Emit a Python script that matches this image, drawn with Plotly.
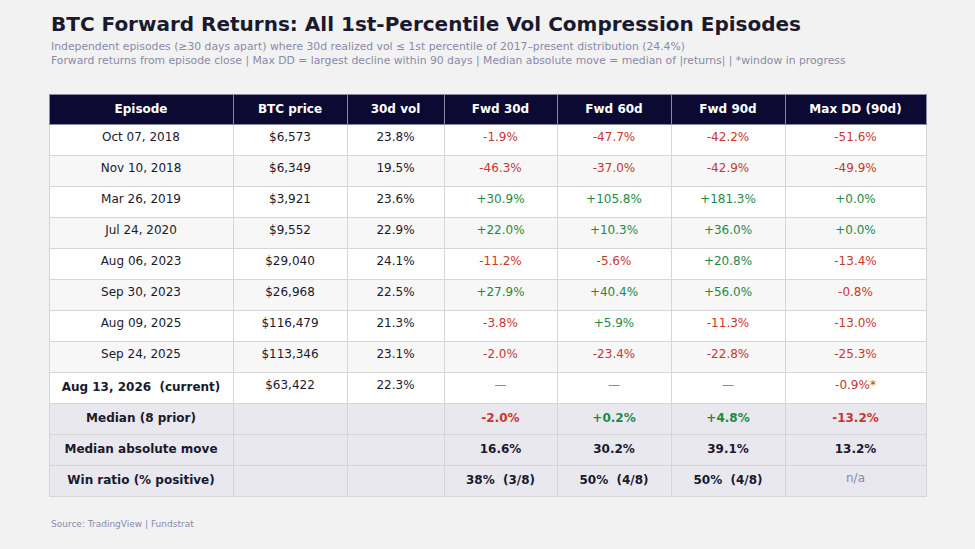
import plotly.graph_objects as go

FONT = "DejaVu Sans, Verdana, sans-serif"
TEXT = "#1a1a2e"
MUTED = "#8a8aa8"
RED = "#c8372d"
GREEN = "#1e8a45"
HEADER_BG = "#0c0a33"
ROW_A = "#ffffff"
ROW_B = "#f7f7f7"
SUMMARY_BG = "#e8e8ee"
LINE = "#d6d6d6"
BG = "#f2f2f2"

columns = ["Episode", "BTC price", "30d vol", "Fwd 30d", "Fwd 60d", "Fwd 90d", "Max DD (90d)"]

episodes = ["Oct 07, 2018", "Nov 10, 2018", "Mar 26, 2019", "Jul 24, 2020",
            "Aug 06, 2023", "Sep 30, 2023", "Aug 09, 2025", "Sep 24, 2025"]
prices = [6573, 6349, 3921, 9552, 29040, 26968, 116479, 113346]
vols = [23.8, 19.5, 23.6, 22.9, 24.1, 22.5, 21.3, 23.1]
fwd30 = [-1.9, -46.3, 30.9, 22.0, -11.2, 27.9, -3.8, -2.0]
fwd60 = [-47.7, -37.0, 105.8, 10.3, -5.6, 40.4, 5.9, -23.4]
fwd90 = [-42.2, -42.9, 181.3, 36.0, 20.8, 56.0, -11.3, -22.8]
max_dd = [-51.6, -49.9, 0.0, 0.0, -13.4, -0.8, -13.0, -25.3]

current_episode = "Aug 13, 2026  (current)"
current_price = 63422
current_vol = 22.3
current_dd = -0.9

median_label = "Median (8 prior)"
median_vals = [-2.0, 0.2, 4.8, -13.2]
abs_label = "Median absolute move"
abs_vals = [16.6, 30.2, 39.1, 13.2]
win_label = "Win ratio (% positive)"
win_vals = ["38%  (3/8)", "50%  (4/8)", "50%  (4/8)", "n/a"]


def pct(v):
    return f"{v:+.1f}%"


def sign_color(v):
    return GREEN if v >= 0 else RED


def nb(s):
    # espaces insecables: la table plotly ne doit pas couper les libelles
    return s.replace(" ", "\u00a0")


def bold(s):
    return f"<b>{nb(s)}</b>"


n_ep = len(episodes)

col_text = [[] for _ in columns]
col_color = [[] for _ in columns]


def add_row(row, colors):
    for c in range(len(columns)):
        col_text[c].append(row[c])
        col_color[c].append(colors[c])


for i in range(n_ep):
    add_row(
        [nb(episodes[i]), f"${prices[i]:,}", f"{vols[i]:.1f}%",
         pct(fwd30[i]), pct(fwd60[i]), pct(fwd90[i]), pct(max_dd[i])],
        [TEXT, TEXT, TEXT, sign_color(fwd30[i]), sign_color(fwd60[i]),
         sign_color(fwd90[i]), sign_color(max_dd[i])],
    )

add_row(
    [bold(current_episode), f"${current_price:,}", f"{current_vol:.1f}%",
     "—", "—", "—", f"{current_dd:.1f}%*"],
    [TEXT, TEXT, TEXT, MUTED, MUTED, MUTED, RED],
)
add_row([bold(median_label), "", ""] + [bold(pct(v)) for v in median_vals],
        [TEXT, TEXT, TEXT] + [sign_color(v) for v in median_vals])
add_row([bold(abs_label), "", ""] + [bold(f"{v:.1f}%") for v in abs_vals],
        [TEXT] * 7)
add_row([bold(win_label), "", ""] + [w if w == "n/a" else bold(w) for w in win_vals],
        [TEXT] * 6 + [MUTED])

row_fill = [ROW_A if i % 2 == 0 else ROW_B for i in range(n_ep + 1)] + [SUMMARY_BG] * 3

fig = go.Figure(
    go.Table(
        domain=dict(x=[49 / 975, 926 / 975], y=[0.0, 1 - 94 / 549]),
        columnwidth=[184, 114, 97, 113, 114, 114, 141],
        header=dict(
            values=[bold(c) for c in columns],
            fill_color=HEADER_BG,
            line=dict(color="#8a8aa0", width=1),
            font=dict(family=FONT, size=12, color="white"),
            align="center",
            height=30,
        ),
        cells=dict(
            values=col_text,
            fill_color=[row_fill] * len(columns),
            line=dict(color=LINE, width=1),
            font=dict(family=FONT, size=12, color=col_color),
            align="center",
            height=31,
        ),
    )
)

fig.update_layout(
    width=975,
    height=549,
    paper_bgcolor=BG,
    plot_bgcolor=BG,
    margin=dict(l=0, r=0, t=0, b=0),
    font=dict(family=FONT),
)


def note(text, y_px, size, color, weight_bold=False):
    fig.add_annotation(
        text=f"<b>{text}</b>" if weight_bold else text,
        xref="paper", yref="paper", x=49 / 975, y=1 - y_px / 549,
        xanchor="left", yanchor="middle", showarrow=False,
        font=dict(family=FONT, size=size, color=color),
    )


note("BTC Forward Returns: All 1st-Percentile Vol Compression Episodes", 24, 20, TEXT, True)
note("Independent episodes (≥30 days apart) where 30d realized vol ≤ 1st percentile of 2017–present distribution (24.4%)",
     47, 10.8, MUTED)
note("Forward returns from episode close | Max DD = largest decline within 90 days | Median absolute move = median of |returns| | *window in progress",
     60, 10.8, MUTED)
note("Source: TradingView | Fundstrat", 524, 9, MUTED)

fig.write_html(
    "out.html",
    config={"displayModeBar": False},
    post_script="document.body.style.margin='0';document.body.style.background='#f2f2f2';",
)
